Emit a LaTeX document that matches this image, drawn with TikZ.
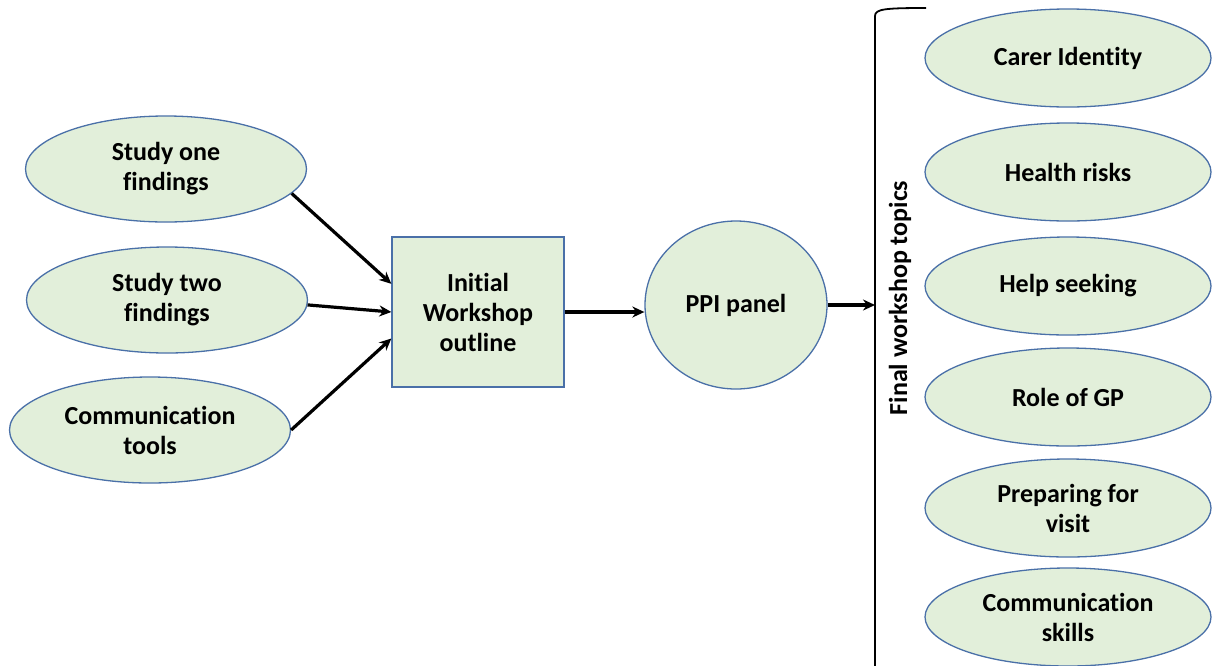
\documentclass[tikz,border=0pt]{standalone}
\usepackage{fontspec}
\setmainfont{Carlito}[Ligatures={NoCommon}]
\usetikzlibrary{shapes.geometric,arrows.meta}

\definecolor{boxfill}{HTML}{E2EFDA}
\definecolor{boxline}{HTML}{4A70A8}

\tikzset{
  labelfont/.style={font=\fontsize{26}{30}\selectfont\bfseries},
  topic/.style={ellipse, draw=boxline, fill=boxfill, line width=1.3pt,
    inner sep=0pt, align=center, labelfont},
  srcnode/.style={topic, minimum width=281pt, minimum height=106pt},
  finalnode/.style={topic, minimum width=286pt, minimum height=98pt},
  outlinebox/.style={rectangle, draw=boxline, fill=boxfill, line width=1.3pt,
    inner sep=0pt, align=center, minimum width=172pt, minimum height=150pt,
    labelfont},
  flow/.style={line width=3.2pt, -{Stealth[length=12pt,width=11pt]}},
}

\begin{document}
\begin{tikzpicture}[x=1pt, y=-1pt]
  \useasboundingbox (0,0) rectangle (1212,665);

  % inputs
  \node[srcnode] (s1) at (166,169) {Study one\\findings};
  \node[srcnode] (s2) at (167,300) {Study two\\findings};
  \node[srcnode] (s3) at (150,430) {Communication\\tools};

  % outline and panel
  \node[outlinebox] (box) at (478,312) {Initial\\Workshop\\outline};
  \node[topic, minimum width=182pt, minimum height=168pt] (ppi) at (736,305) {PPI panel};

  % final topics
  \node[finalnode] (t1) at (1068,58) {Carer Identity};
  \node[finalnode] (t2) at (1068,172) {Health risks};
  \node[finalnode] (t3) at (1068,286) {Help seeking};
  \node[finalnode] (t4) at (1068,397) {Role of GP};
  \node[finalnode] (t5) at (1068,508) {Preparing for\\visit};
  \node[finalnode] (t6) at (1068,617) {Communication\\skills};

  % bracket grouping the topics
  \coordinate (brtop) at (926,8);
  \coordinate (brbot) at (875,666);
  \coordinate (brk) at (875,305);
  \draw[line width=1.8pt] (brtop) .. controls (885,8) and (875,9) .. (875,16) -- (brbot);
  \node[rotate=90, labelfont] (lbl) at (900,298) {Final workshop topics};

  % connectors
  \draw[flow] (s1.-11) -- (box.162.6);
  \draw[flow] (s2.-2) -- (box.west);
  \draw[flow] (s3.east) -- (box.-163.2);
  \draw[flow] (box.east) -- (box.east -| ppi.west);
  \draw[flow] (ppi.east) -- (brk);
\end{tikzpicture}
\end{document}
